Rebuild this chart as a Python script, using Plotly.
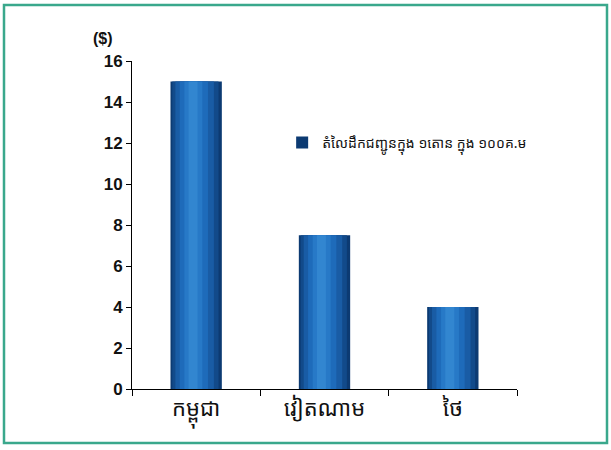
import plotly.graph_objects as go

categories = ["កម្ពុជា", "វៀតណាម", "ថៃ"]
values = [15, 7.5, 4]
series_name = "តំលៃដឹកជញ្ជូនក្នុង ១តោន ក្នុង ១០០គ.ម"
y_ticks = [0, 2, 4, 6, 8, 10, 12, 14, 16]

KH_FONT = "Noto Sans Khmer, Khmer OS, Khmer OS System, DejaVu Sans, sans-serif"

fig = go.Figure()

# cylindrical shading: overlay bars of decreasing width, lighter toward the highlight
layers = [
    (0.40, 0.0, "#0c3a72"),
    (0.36, -0.006, "#124a8a"),
    (0.30, -0.012, "#195ca5"),
    (0.22, -0.018, "#1e6bba"),
    (0.14, -0.022, "#2779c7"),
    (0.07, -0.024, "#3286d0"),
]
for i, (w, shift, col) in enumerate(layers):
    fig.add_trace(go.Bar(
        x=categories, y=values, width=w,
        offset=-0.20 + (0.40 - w) / 2 + shift if i else -0.20,
        marker=dict(color=col, line=dict(width=0)),
        name=series_name, showlegend=(i == 0),
        hoverinfo="skip" if i else None,
    ))

fig.update_layout(
    width=611, height=450,
    barmode="overlay",
    paper_bgcolor="white", plot_bgcolor="white",
    margin=dict(l=132, r=94, t=61, b=61),
    font=dict(family="Arial, Liberation Sans, sans-serif", color="#111"),
    showlegend=True,
    legend=dict(x=0.39, y=0.75, xanchor="left", yanchor="middle",
                bgcolor="rgba(0,0,0,0)", font=dict(size=14, family=KH_FONT),
                itemwidth=30),
    xaxis=dict(showline=True, linecolor="black", linewidth=1,
               ticks="outside", tickson="boundaries", ticklen=6, tickcolor="black",
               tickfont=dict(size=22, family=KH_FONT, color="#111"),
               showgrid=False, zeroline=False),
    yaxis=dict(range=[0, 16], tickvals=y_ticks, showline=True, linecolor="black",
               linewidth=1, ticks="outside", ticklen=5, tickcolor="black",
               tickfont=dict(size=17, family="Liberation Sans, Arial, sans-serif",
                             color="#111", weight="bold"),
               showgrid=False, zeroline=False),
)

fig.add_annotation(text="<b>($)</b>", xref="paper", yref="paper",
                   x=-0.075, y=1.07, xanchor="center", yanchor="middle", showarrow=False,
                   font=dict(size=16, family="Liberation Sans, Arial, sans-serif", color="#111"))

# outer green frame
fig.add_shape(type="rect", xref="paper", yref="paper",
              x0=(4 - 132) / 385, x1=(607 - 132) / 385,
              y0=(389 - 443) / 328, y1=(389 - 5) / 328,
              line=dict(color="#3aa88c", width=2.5), fillcolor="rgba(0,0,0,0)")

fig.write_html("out.html", config={"displayModeBar": False},
               post_script="document.body.style.margin='0';document.body.style.padding='0';")
